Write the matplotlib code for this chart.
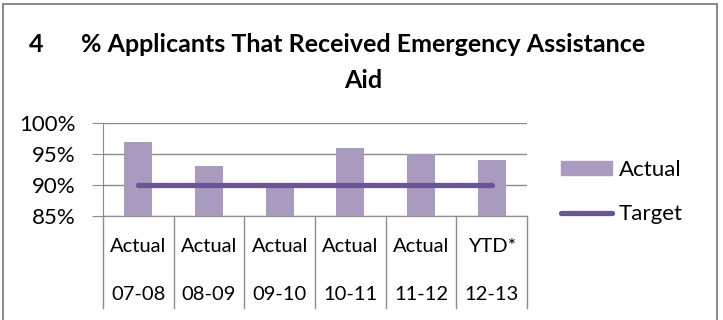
import matplotlib.pyplot as plt
from matplotlib.lines import Line2D
from matplotlib.patches import Patch, Rectangle
from matplotlib.transforms import blended_transform_factory

plt.rcParams['font.family'] = ['Lato', 'DejaVu Sans']

periods = ["07-08", "08-09", "09-10", "10-11", "11-12", "12-13"]
kinds = ["Actual", "Actual", "Actual", "Actual", "Actual", "YTD*"]
actual = [0.97, 0.93, 0.90, 0.96, 0.95, 0.94]
target = [0.90, 0.90, 0.90, 0.90, 0.90, 0.90]

BAR = "#a99bc0"
LINE = "#6b5594"
GRID = "#8c8c8c"

W, H = 723, 320
fig = plt.figure(figsize=(W / 100, H / 100), dpi=100)

# outer frame
fig.patches.append(Rectangle((3 / W, -0.1), (717 - 3) / W, (H - 4) / H + 0.1,
                             transform=fig.transFigure, fill=False,
                             edgecolor="#8c8c8c", lw=1.5))

left, right, top, bottom = 103, 527, 123, 216
ax = fig.add_axes([left / W, 1 - bottom / H, (right - left) / W, (bottom - top) / H])

x = range(len(actual))
ax.bar(x, [a - 0.85 for a in actual], bottom=0.85, width=0.4, color=BAR, zorder=2)
ax.plot(x, target, color=LINE, lw=3.8, solid_capstyle="round", zorder=3)

ax.set_xlim(-0.5, len(actual) - 0.5)
ax.set_ylim(0.85, 1.0)
ax.set_yticks([0.85, 0.90, 0.95, 1.00])
ax.set_yticklabels(["85%", "90%", "95%", "100%"], fontsize=16)
ax.yaxis.grid(True, color=GRID, lw=1, zorder=0)
ax.tick_params(axis="y", length=8, color=GRID, pad=12)
ax.set_xticks([])
for s in ["top", "right"]:
    ax.spines[s].set_visible(False)
ax.spines["left"].set_color(GRID)
ax.spines["bottom"].set_color(GRID)

# table-like category axis
tr = blended_transform_factory(ax.transData, fig.transFigure)
for b in range(len(actual) + 1):
    ax.add_line(Line2D([b - 0.5, b - 0.5], [1 - bottom / H, 1 - 308 / H],
                       transform=tr, color=GRID, lw=1, clip_on=False))
for i in x:
    ax.text(i, 1 - 247 / H, kinds[i], transform=tr, ha="center", va="center", fontsize=14.5)
    ax.text(i, 1 - 295 / H, periods[i], transform=tr, ha="center", va="center", fontsize=14.5)

# title
fig.text(36 / W, 1 - 45 / H, "4", fontsize=18, fontweight="bold", ha="center", va="center")
fig.text(363 / W, 1 - 45 / H, "% Applicants That Received Emergency Assistance",
         fontsize=18, fontweight="bold", ha="center", va="center")
fig.text(363 / W, 1 - 80 / H, "Aid", fontsize=18, fontweight="bold", ha="center", va="center")

handles = [Patch(color=BAR), Line2D([0], [0], color=LINE, lw=3.8, solid_capstyle="round")]
fig.legend(handles, ["Actual", "Target"], loc="upper left",
           bbox_to_anchor=(541 / W, 1 - 140 / H), frameon=False, fontsize=16,
           handlelength=2.3, handleheight=0.55, handletextpad=0.3, labelspacing=1.1)

fig.savefig("out.png", dpi=100)
